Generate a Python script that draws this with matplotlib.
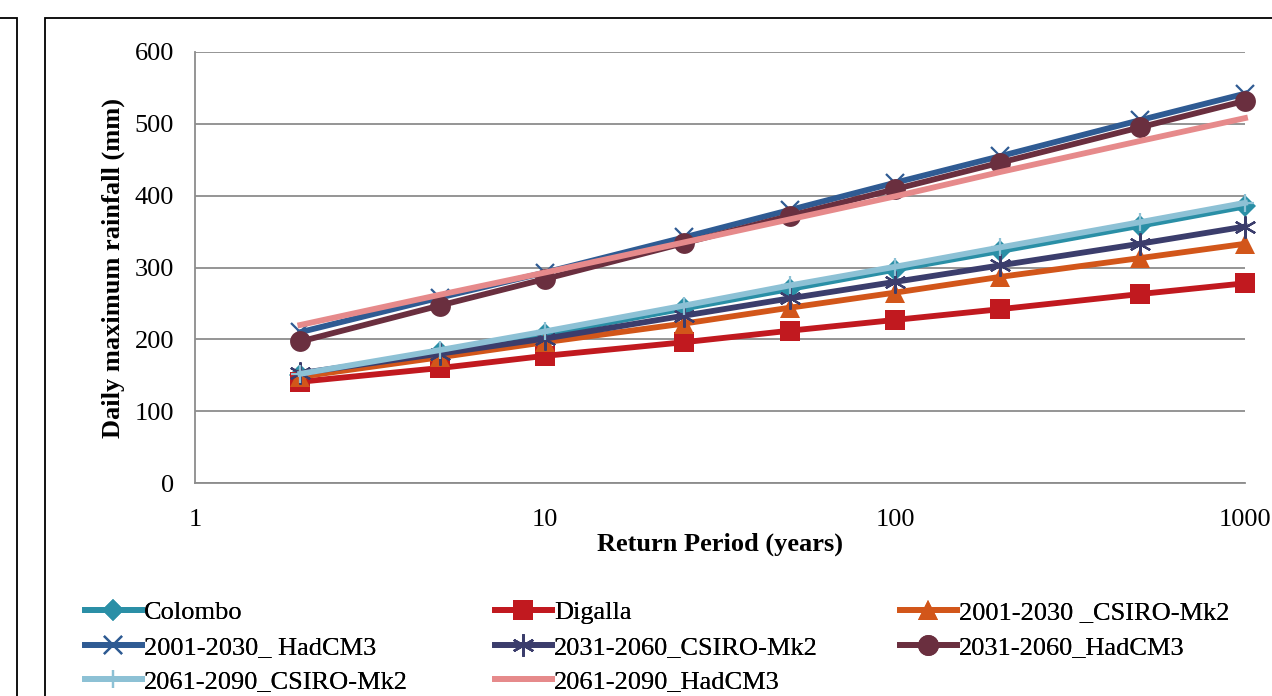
#!/usr/bin/env python3
"""Daily maximum rainfall vs return period (Colombo / Digalla and GCM scenarios)."""
import matplotlib
matplotlib.use("Agg")
import matplotlib.pyplot as plt
from matplotlib.patches import Rectangle

plt.rcParams["font.family"] = ["Liberation Serif", "DejaVu Serif"]

return_period = [2, 5, 10, 25, 50, 100, 200, 500, 1000]

colombo = [150, 182, 207, 243, 270, 297, 323, 358, 385]
digalla = [141, 160, 177, 196, 212, 227, 242, 263, 278]
csiro_2001 = [148, 175, 196, 222, 244, 265, 287, 313, 333]
hadcm3_2001 = [210, 258, 293, 342, 380, 418, 455, 505, 542]
csiro_2031 = [153, 180, 201, 233, 257, 280, 303, 333, 357]
hadcm3_2031 = [197, 247, 284, 334, 372, 409, 446, 495, 532]
csiro_2061 = [152, 185, 211, 247, 275, 301, 328, 363, 390]
hadcm3_2061 = [220, 262, 293, 335, 367, 399, 433, 476, 508]

SERIES = [
    ("Colombo", colombo, "#2A8FA6", "D", 11),
    ("Digalla", digalla, "#C1191F", "s", 14),
    ("2001-2030 _CSIRO-Mk2", csiro_2001, "#D2561A", "^", 14),
    ("2001-2030_ HadCM3", hadcm3_2001, "#2F5B93", "x", 13),
    ("2031-2060_CSIRO-Mk2", csiro_2031, "#3B3D6C", (6, 2, 0), 16),
    ("2031-2060_HadCM3", hadcm3_2031, "#6A2F3F", "o", 15),
    ("2061-2090_CSIRO-Mk2", csiro_2061, "#8DC1D5", "+", 13),
    ("2061-2090_HadCM3", hadcm3_2061, "#E68A8B", None, 0),
]

FS = 19

fig = plt.figure(figsize=(12.72, 6.96), dpi=100)

# outer frames (the chart sits in a bordered box, neighbour box cut off on the left)
fig.patches.append(Rectangle((-0.1, -0.1), 0.1 + 17 / 1272, 1.1 - 18 / 696,
                             transform=fig.transFigure, fill=False,
                             edgecolor="black", linewidth=1.3))
fig.patches.append(Rectangle((45 / 1272, -0.1), 1.2, 1.1 - 18 / 696,
                             transform=fig.transFigure, fill=False,
                             edgecolor="black", linewidth=1.3))

ax = fig.add_axes([195 / 1272, 213 / 696, 1050 / 1272, 431 / 696])

handles = []
for label, vals, color, marker, ms in SERIES:
    mew = 1.6 if marker in ("x", "+", (6, 2, 0)) else 0
    (h,) = ax.plot(return_period, vals, color=color, linewidth=4.2,
                   marker=marker, markersize=ms, markeredgewidth=mew,
                   markeredgecolor=color, label=label, zorder=3,
                   clip_on=False)
    handles.append(h)

ax.set_xscale("log")
ax.set_xlim(1, 1000)
ax.set_ylim(0, 600)
ax.set_yticks(range(0, 601, 100))
ax.set_xticks([1, 10, 100, 1000])
ax.set_xticklabels(["1", "10", "100", "1000"])
ax.minorticks_off()
ax.tick_params(axis="y", length=0, labelsize=FS, pad=15)
ax.tick_params(axis="x", length=0, labelsize=FS, pad=19)
ax.grid(axis="y", color="#8c8c8c", linewidth=1.3)
ax.set_axisbelow(True)
for side in ("top", "right"):
    ax.spines[side].set_visible(False)
for side in ("left", "bottom"):
    ax.spines[side].set_color("#8c8c8c")
    ax.spines[side].set_linewidth(1.3)

ax.set_xlabel("Return Period (years)", fontsize=FS, fontweight="bold", labelpad=1)
ax.set_ylabel("Daily maximum rainfall (mm)", fontsize=FS, fontweight="bold",
              labelpad=7)

# legend in three fixed columns, filled row by row
col_x = [85 / 1272, 495 / 1272, 900 / 1272]
for c in range(3):
    hs = handles[c::3]
    leg = fig.legend(handles=hs, loc="upper left",
                     bbox_to_anchor=(col_x[c], 1 - 601 / 696),
                     frameon=False, fontsize=FS, handlelength=2.15,
                     handletextpad=0.08, labelspacing=0.41,
                     borderaxespad=0, borderpad=0)
    fig.add_artist(leg)

fig.savefig("out.png", dpi=100)
